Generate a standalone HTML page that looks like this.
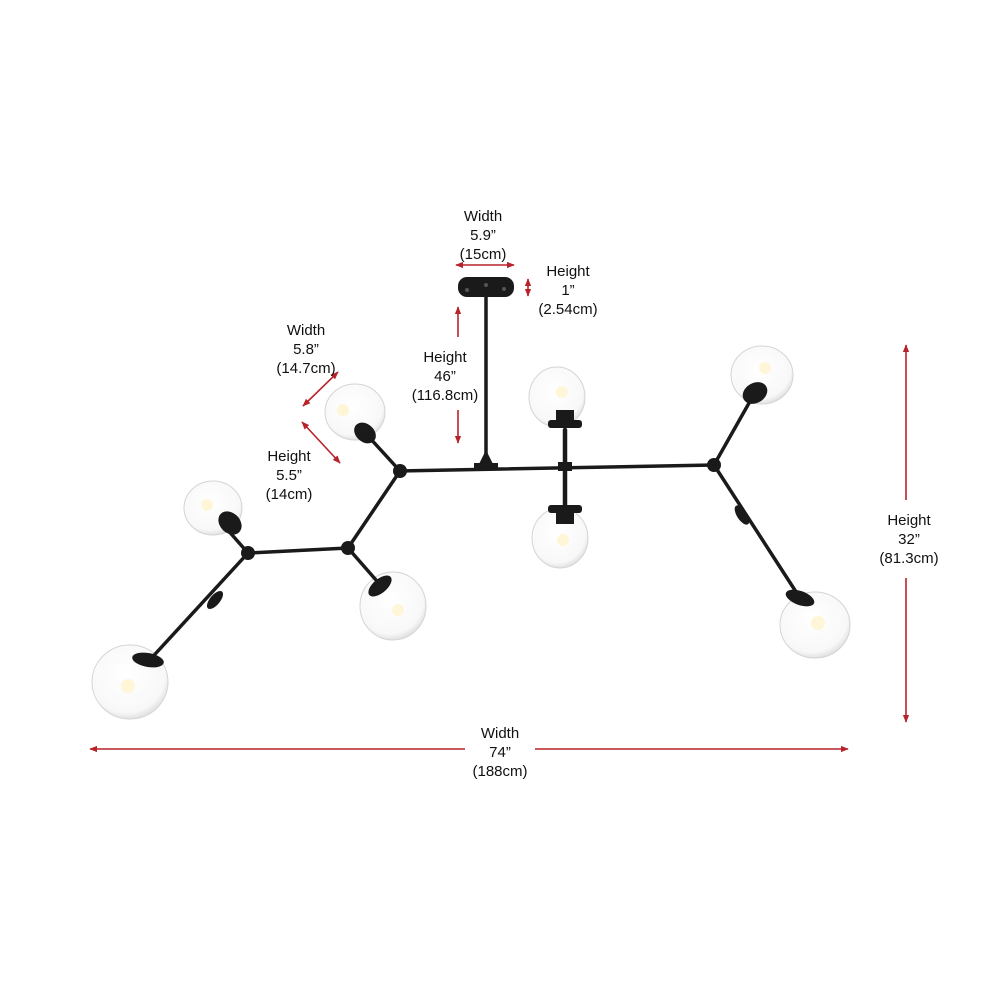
<!DOCTYPE html>
<html><head><meta charset="utf-8"><style>
html,body{margin:0;padding:0;background:#fff;}
svg{display:block}
text{font-family:"Liberation Sans",sans-serif;font-size:15px;fill:#111;text-anchor:middle}
</style></head><body>
<svg width="1000" height="1000" viewBox="0 0 1000 1000">
<defs>
<marker id="a" viewBox="0 0 10 10" refX="9" refY="5" markerWidth="5" markerHeight="5" orient="auto-start-reverse"><path d="M0,1 L10,5 L0,9 z" fill="#b8222a"/></marker>
<radialGradient id="g" cx="0.45" cy="0.4" r="0.6"><stop offset="0" stop-color="#fff"/><stop offset="0.85" stop-color="#f8f8f8"/><stop offset="1" stop-color="#e2e2e2"/></radialGradient>
</defs>
<g stroke="#b8222a" stroke-width="1.6" fill="none" marker-start="url(#a)" marker-end="url(#a)">
<line x1="456" y1="265" x2="514" y2="265"/>
<line x1="528" y1="279" x2="528" y2="296"/>
<line x1="458" y1="307" x2="458" y2="337" marker-end="none"/>
<line x1="458" y1="443" x2="458" y2="410" marker-end="none"/>
<line x1="338" y1="372" x2="303" y2="406"/>
<line x1="302" y1="422" x2="340" y2="463"/>
<line x1="906" y1="345" x2="906" y2="500" marker-end="none"/>
<line x1="906" y1="722" x2="906" y2="578" marker-end="none"/>
<line x1="90" y1="749" x2="465" y2="749" marker-end="none"/>
<line x1="848" y1="749" x2="535" y2="749" marker-end="none"/>
</g>
<g fill="url(#g)" stroke="#d4d4d4" stroke-width="1">
<ellipse cx="557" cy="397" rx="28" ry="30"/>
<ellipse cx="560" cy="538" rx="28" ry="30"/>
<ellipse cx="355" cy="412" rx="30" ry="28"/>
<ellipse cx="213" cy="508" rx="29" ry="27"/>
<ellipse cx="393" cy="606" rx="33" ry="34"/>
<ellipse cx="130" cy="682" rx="38" ry="37"/>
<ellipse cx="762" cy="375" rx="31" ry="29"/>
<ellipse cx="815" cy="625" rx="35" ry="33"/>
</g>
<g fill="#fff6d8">
<circle cx="562" cy="392" r="6"/><circle cx="563" cy="540" r="6"/><circle cx="343" cy="410" r="6"/>
<circle cx="207" cy="505" r="6"/><circle cx="398" cy="610" r="6"/><circle cx="128" cy="686" r="7"/>
<circle cx="765" cy="368" r="6"/><circle cx="818" cy="623" r="7"/>
</g>
<g stroke="#1a1a1a" stroke-linecap="round" fill="none">
<line x1="486" y1="297" x2="486" y2="466" stroke-width="3.5"/>
<line x1="398" y1="471" x2="714" y2="465" stroke-width="3.5"/>
<line x1="565" y1="430" x2="565" y2="512" stroke-width="4.5"/>
<line x1="400" y1="471" x2="368" y2="436" stroke-width="3.5"/>
<line x1="400" y1="471" x2="348" y2="548" stroke-width="3.5"/>
<line x1="348" y1="548" x2="248" y2="553" stroke-width="3.5"/>
<line x1="348" y1="548" x2="383" y2="588" stroke-width="3.5"/>
<line x1="248" y1="553" x2="226" y2="528" stroke-width="3.5"/>
<line x1="248" y1="553" x2="146" y2="664" stroke-width="3.5"/>
<line x1="714" y1="465" x2="753" y2="396" stroke-width="3.5"/>
<line x1="714" y1="465" x2="800" y2="598" stroke-width="3.5"/>
</g>
<g fill="#1a1a1a">
<rect x="458" y="277" width="56" height="20" rx="9"/>
<path d="M478,466 L486,450 L494,466 z"/>
<rect x="474" y="463" width="24" height="7"/>
<rect x="548" y="420" width="34" height="8" rx="3"/>
<rect x="556" y="410" width="18" height="14"/>
<rect x="548" y="505" width="34" height="8" rx="3"/>
<rect x="556" y="510" width="18" height="14"/>
<rect x="558" y="462" width="14" height="9"/>
<circle cx="400" cy="471" r="7"/><circle cx="348" cy="548" r="7"/><circle cx="248" cy="553" r="7"/><circle cx="714" cy="465" r="7"/>
<ellipse cx="365" cy="433" rx="12" ry="9" transform="rotate(40 365 433)"/>
<ellipse cx="230" cy="523" rx="13" ry="10" transform="rotate(45 230 523)"/>
<ellipse cx="380" cy="586" rx="14" ry="7" transform="rotate(-40 380 586)"/>
<ellipse cx="148" cy="660" rx="16" ry="7" transform="rotate(10 148 660)"/>
<ellipse cx="755" cy="393" rx="13" ry="10" transform="rotate(-30 755 393)"/>
<ellipse cx="800" cy="598" rx="15" ry="7" transform="rotate(20 800 598)"/>
<ellipse cx="215" cy="600" rx="5" ry="11" transform="rotate(40 215 600)"/>
<ellipse cx="742" cy="515" rx="5" ry="11" transform="rotate(-33 742 515)"/>
</g>
<g fill="#555"><circle cx="467" cy="290" r="2"/><circle cx="486" cy="285" r="2"/><circle cx="504" cy="289" r="2"/></g>
<text x="483" y="221">Width</text><text x="483" y="240">5.9”</text><text x="483" y="259">(15cm)</text>
<text x="568" y="276">Height</text><text x="568" y="295">1”</text><text x="568" y="314">(2.54cm)</text>
<text x="445" y="362">Height</text><text x="445" y="381">46”</text><text x="445" y="400">(116.8cm)</text>
<text x="306" y="335">Width</text><text x="306" y="354">5.8”</text><text x="306" y="373">(14.7cm)</text>
<text x="289" y="461">Height</text><text x="289" y="480">5.5”</text><text x="289" y="499">(14cm)</text>
<text x="909" y="525">Height</text><text x="909" y="544">32”</text><text x="909" y="563">(81.3cm)</text>
<text x="500" y="738">Width</text><text x="500" y="757">74”</text><text x="500" y="776">(188cm)</text>
</svg>
</body></html>
